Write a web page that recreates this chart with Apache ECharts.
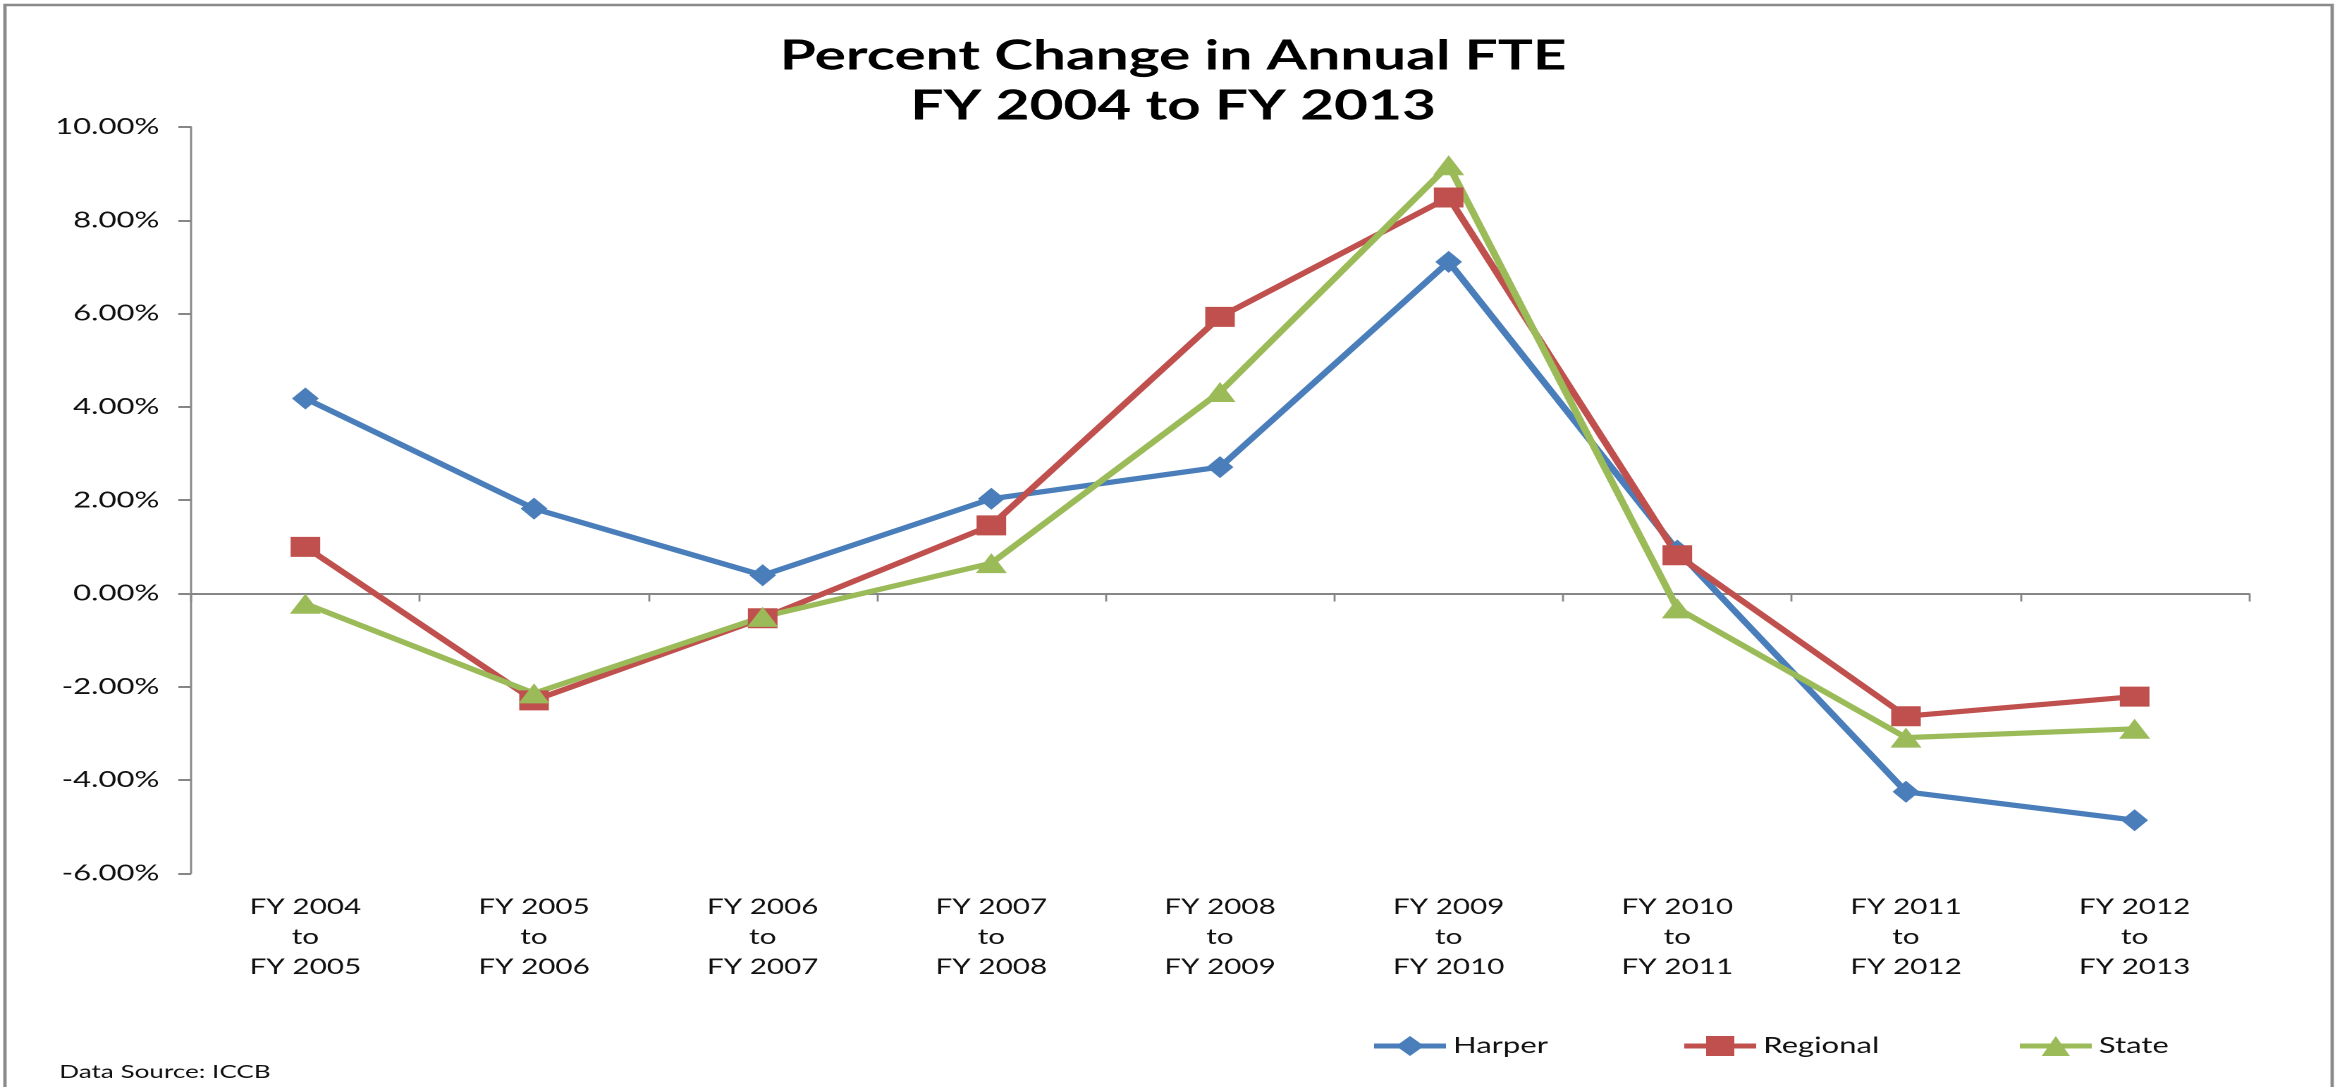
<!DOCTYPE html>
<html>
<head>
<meta charset="utf-8">
<script src="https://cdn.jsdelivr.net/npm/echarts@6/dist/echarts.min.js"></script>
<style>
html,body{margin:0;padding:0;background:#fff;overflow:hidden;}
#wrap{width:1664px;height:1087px;transform:scaleX(1.41);transform-origin:0 0;}
</style>
</head>
<body>
<div id="wrap"></div>
<script>
// ---- data ----
const categories = [
  'FY 2004\nto\nFY 2005', 'FY 2005\nto\nFY 2006', 'FY 2006\nto\nFY 2007',
  'FY 2007\nto\nFY 2008', 'FY 2008\nto\nFY 2009', 'FY 2009\nto\nFY 2010',
  'FY 2010\nto\nFY 2011', 'FY 2011\nto\nFY 2012', 'FY 2012\nto\nFY 2013'
];
const harper   = [0.0418, 0.0182, 0.0039, 0.0203, 0.0271, 0.0711, 0.0092, -0.0425, -0.0486];
const regional = [0.0100, -0.0229, -0.0053, 0.0146, 0.0593, 0.0849, 0.0082, -0.0263, -0.0221];
const state    = [-0.0022, -0.0214, -0.0050, 0.0065, 0.0432, 0.0918, -0.0032, -0.0309, -0.0290];
const yMin = -0.06, yMax = 0.10, yStep = 0.02;
const seriesNames = ['Harper', 'Regional', 'State'];
const titleText = 'Percent Change in Annual FTE\nFY 2004 to FY 2013';
const sourceText = 'Data Source: ICCB';

// ---- chart ----
const FONT = 'Lato';
const AXIS_GREY = '#868686';
const chart = echarts.init(document.getElementById('wrap'), null, {devicePixelRatio: 2});

function mkSeries(name, data, color, symbol, size) {
  return {
    name: name, type: 'line', data: data,
    symbol: symbol, symbolSize: size,
    lineStyle: {color: color, width: 5.2},
    itemStyle: {color: color},
    emphasis: {disabled: true}
  };
}

function mkLegend(name, left) {
  return {
    data: [name], left: left, top: 1035, orient: 'horizontal',
    itemWidth: 51, itemHeight: 25, itemGap: 0, padding: 0,
    selectedMode: false,
    lineStyle: {width: 5},
    textStyle: {fontFamily: FONT, fontSize: 22, color: '#111'}
  };
}

chart.setOption({
  animation: false,
  backgroundColor: '#ffffff',
  title: [
    {
      text: titleText, left: 'center', top: 31, padding: 0,
      textStyle: {fontFamily: FONT, fontWeight: 'bold', fontSize: 41.5, lineHeight: 50, color: '#000'}
    },
    {
      text: sourceText, left: 42, top: 1062, padding: 0,
      textStyle: {fontFamily: FONT, fontWeight: 'normal', fontSize: 18.5, lineHeight: 20, color: '#111'}
    }
  ],
  legend: [
    mkLegend(seriesNames[0], 972),
    mkLegend(seriesNames[1], 1192),
    mkLegend(seriesNames[2], 1430)
  ],
  grid: {left: 135.5, right: 69, top: 127, bottom: 213.6, containLabel: false},
  xAxis: [
    {
      type: 'category', data: categories, boundaryGap: true, position: 'bottom',
      axisLine: {show: false, onZero: false},
      axisTick: {show: false},
      axisLabel: {
        interval: 0, margin: 19, fontFamily: FONT, fontSize: 21, lineHeight: 30,
        color: '#111', align: 'center'
      },
      splitLine: {show: false}
    },
    {
      type: 'category', data: categories, boundaryGap: true, position: 'bottom',
      axisLine: {show: true, onZero: true, lineStyle: {color: AXIS_GREY, width: 2}},
      axisTick: {show: true, length: 8, inside: false, lineStyle: {color: AXIS_GREY, width: 1.4}},
      axisLabel: {show: false},
      splitLine: {show: false}
    }
  ],
  yAxis: {
    type: 'value', min: yMin, max: yMax, interval: yStep,
    axisLine: {show: true, lineStyle: {color: AXIS_GREY, width: 1.4}},
    axisTick: {show: true, length: 9, lineStyle: {color: AXIS_GREY, width: 2}},
    axisLabel: {
      margin: 22.5, fontFamily: FONT, fontSize: 22, color: '#111',
      formatter: function (v) { return (v * 100).toFixed(2) + '%'; }
    },
    splitLine: {show: false}
  },
  graphic: [
    {
      type: 'rect', silent: true, z: -1,
      shape: {x: 3.5, y: 5, width: 1650.5, height: 1300},
      style: {fill: 'none', stroke: '#8a8a8a', lineWidth: 2.4}
    }
  ],
  series: [
    mkSeries(seriesNames[0], harper, '#4A7EBB', 'diamond', [19, 22]),
    mkSeries(seriesNames[1], regional, '#C0504D', 'rect', [21, 20]),
    mkSeries(seriesNames[2], state, '#9BBB59', 'triangle', [22, 20])
  ]
});
</script>
</body>
</html>
